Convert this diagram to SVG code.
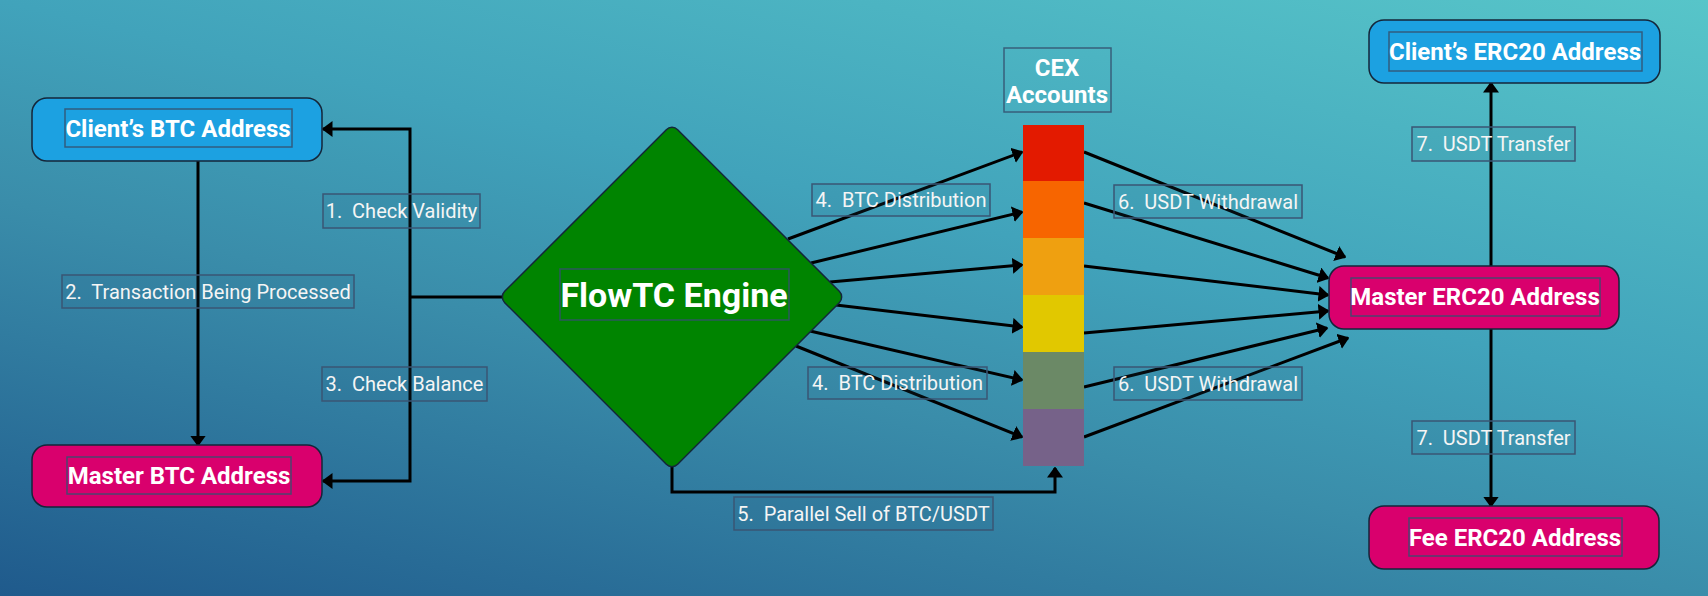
<svg xmlns="http://www.w3.org/2000/svg" width="1708" height="596" viewBox="0 0 1708 596">
<defs>
<linearGradient id="bg" gradientUnits="userSpaceOnUse" x1="1708" y1="0" x2="1489" y2="943">
<stop offset="0" stop-color="#57c5c9"/>
<stop offset="0.4" stop-color="#41a3bb"/>
<stop offset="0.6" stop-color="#3a8daa"/>
<stop offset="1" stop-color="#1f5a8c"/>
</linearGradient>
<marker id="arr" viewBox="0 0 11 16" refX="9.5" refY="8" markerWidth="11" markerHeight="16" markerUnits="userSpaceOnUse" orient="auto">
<path d="M0,0 L11,8 L0,16 z" fill="#000"/>
</marker>
</defs>
<style>
.node{stroke:#14263a;stroke-width:1.5}
.blue{fill:#1ca1e1}
.pink{fill:#d9006d}
.inner{fill:none;stroke:#34506e;stroke-width:1.5;stroke-opacity:0.85}
.nt{font-family:Roboto,"Liberation Sans",sans-serif;font-weight:bold;fill:#fff;text-anchor:middle}
.edge{fill:none;stroke:#000;stroke-width:3}
.arrow{marker-end:url(#arr)}
.lb{fill:#2a5f86;fill-opacity:0.12;stroke:#3a5674;stroke-width:1.5}
.lt{font-family:Roboto,"Liberation Sans",sans-serif;font-size:20px;fill:#f5f5f5;text-anchor:middle}
</style>
<rect x="0" y="0" width="1708" height="596" fill="url(#bg)"/>

<g id="connectors">
<path class="edge" d="M505,297 H410"/>
<path class="edge arrow" d="M410,297 V129 H323"/>
<path class="edge arrow" d="M410,297 V481 H323"/>
<path class="edge arrow" d="M198,161 V445"/>
<path class="edge arrow" d="M788,239 L1022,152"/>
<path class="edge arrow" d="M811,263 L1022,212"/>
<path class="edge arrow" d="M830,282 L1022,265"/>
<path class="edge arrow" d="M836,305 L1022,327"/>
<path class="edge arrow" d="M810,331 L1022,380"/>
<path class="edge arrow" d="M796,346 L1022,437"/>
<path class="edge arrow" d="M672,460 V492 H1055 V468"/>
<path class="edge arrow" d="M1084,152 L1345,257"/>
<path class="edge arrow" d="M1084,203 L1328,278"/>
<path class="edge arrow" d="M1084,266 L1328,295"/>
<path class="edge arrow" d="M1084,333 L1328,311"/>
<path class="edge arrow" d="M1084,387 L1327,328"/>
<path class="edge arrow" d="M1084,437 L1348,338"/>
<path class="edge arrow" d="M1491,266 V83"/>
<path class="edge arrow" d="M1491,329 V506"/>
</g>

<g id="client-btc">
<rect class="node blue" x="32" y="98" width="290" height="63" rx="15"/>
<rect class="inner" x="65" y="109" width="227" height="38"/>
<text class="nt" x="178" y="137" font-size="24">Client’s BTC Address</text>
</g>
<g id="master-btc">
<rect class="node pink" x="32" y="445" width="290" height="62" rx="15"/>
<rect class="inner" x="67" y="457" width="224" height="37"/>
<text class="nt" x="179" y="484" font-size="24">Master BTC Address</text>
</g>
<g id="flowtc-engine">
<rect class="node" fill="#008400" x="549.7" y="174.7" width="244.6" height="244.6" rx="8" transform="rotate(45 672 297)"/>
<rect class="inner" x="560" y="269" width="229" height="51"/>
<text class="nt" x="674" y="307" font-size="34">FlowTC Engine</text>
</g>
<g id="cex-accounts">
<rect class="inner" x="1004" y="48" width="107" height="64"/>
<text class="nt" x="1057" y="76" font-size="24">CEX</text>
<text class="nt" x="1057" y="103" font-size="24">Accounts</text>
<rect x="1023" y="125" width="61" height="57" fill="#e31a00"/>
<rect x="1023" y="181" width="61" height="57" fill="#f76500"/>
<rect x="1023" y="238" width="61" height="57" fill="#efa010"/>
<rect x="1023" y="295" width="61" height="57" fill="#e1c800"/>
<rect x="1023" y="352" width="61" height="57" fill="#6b8966"/>
<rect x="1023" y="409" width="61" height="57" fill="#766289"/>
</g>
<g id="client-erc20">
<rect class="node blue" x="1369" y="20" width="291" height="63" rx="15"/>
<rect class="inner" x="1389" y="32" width="253" height="39"/>
<text class="nt" x="1515" y="60" font-size="24">Client’s ERC20 Address</text>
</g>
<g id="master-erc20">
<rect class="node pink" x="1329" y="266" width="290" height="63" rx="15"/>
<rect class="inner" x="1351" y="278" width="249" height="38"/>
<text class="nt" x="1475" y="305" font-size="24">Master ERC20 Address</text>
</g>
<g id="fee-erc20">
<rect class="node pink" x="1369" y="506" width="290" height="63" rx="15"/>
<rect class="inner" x="1409" y="518" width="213" height="38"/>
<text class="nt" x="1515" y="546" font-size="24">Fee ERC20 Address</text>
</g>

<g id="edge-labels">
<rect class="lb" x="323" y="194" width="157" height="34"/>
<text class="lt" x="401.5" y="218">1.&#160; Check Validity</text>
<rect class="lb" x="62" y="275" width="292" height="33"/>
<text class="lt" x="208" y="298.5">2.&#160; Transaction Being Processed</text>
<rect class="lb" x="322" y="367" width="165" height="34"/>
<text class="lt" x="404.5" y="391">3.&#160; Check Balance</text>
<rect class="lb" x="812" y="184" width="178" height="32"/>
<text class="lt" x="901" y="207">4.&#160; BTC Distribution</text>
<rect class="lb" x="808" y="367" width="179" height="32"/>
<text class="lt" x="897.5" y="390">4.&#160; BTC Distribution</text>
<rect class="lb" x="734" y="497" width="259" height="33"/>
<text class="lt" x="863.5" y="520.5">5.&#160; Parallel Sell of BTC/USDT</text>
<rect class="lb" x="1114" y="185" width="188" height="33"/>
<text class="lt" x="1208" y="208.5">6.&#160; USDT Withdrawal</text>
<rect class="lb" x="1114" y="367" width="188" height="33"/>
<text class="lt" x="1208" y="390.5">6.&#160; USDT Withdrawal</text>
<rect class="lb" x="1412" y="127" width="163" height="34"/>
<text class="lt" x="1493.5" y="151">7.&#160; USDT Transfer</text>
<rect class="lb" x="1412" y="421" width="163" height="33"/>
<text class="lt" x="1493.5" y="444.5">7.&#160; USDT Transfer</text>
</g>
</svg>
